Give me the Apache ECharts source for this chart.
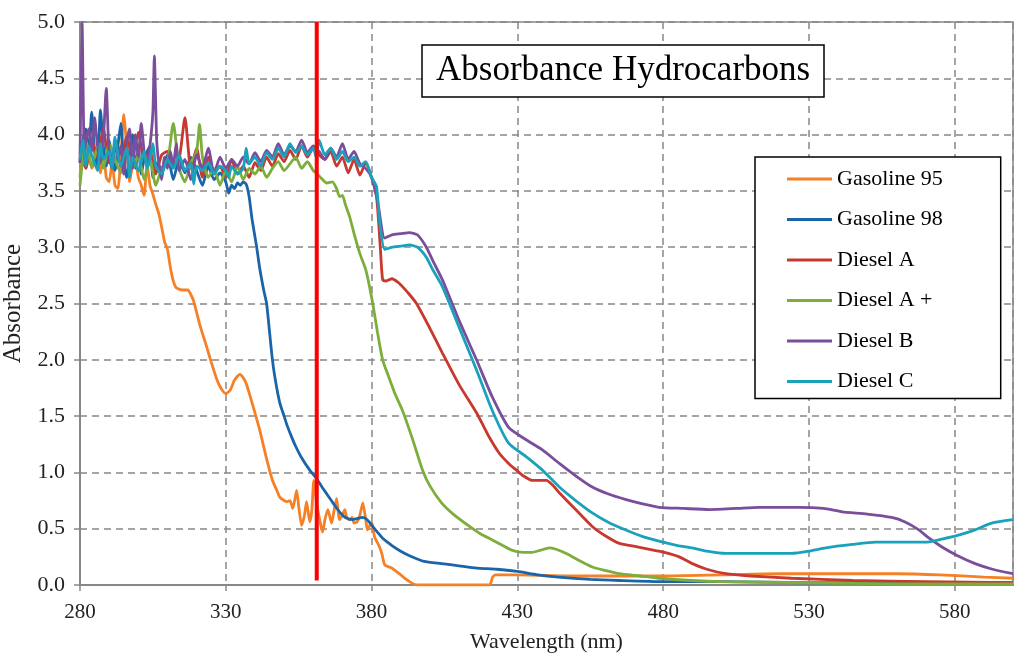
<!DOCTYPE html>
<html>
<head>
<meta charset="utf-8">
<script src="https://cdn.jsdelivr.net/npm/echarts@6/dist/echarts.min.js"></script>
<style>html,body{margin:0;padding:0;background:#fff}#c{width:1024px;height:662px}</style>
</head>
<body>
<div id="c"></div>
<script>
var seriesNames = ['Gasoline 95','Gasoline 98','Diesel A','Diesel A +','Diesel B','Diesel C'];
var seriesColors = ['#F58025','#1A65AA','#C8382E','#7DAE3C','#7A4E9A','#1AA2BD'];
var xTicks = [280,330,380,430,480,530,580];
var yTicks = [0,0.5,1,1.5,2,2.5,3,3.5,4,4.5,5];

var gasoline95 = [[280,3.62],[281,3.95],[282,3.72],[283,3.85],[284,3.70],[286,3.80],[287,3.66],[288,3.88],[289,3.62],[290,3.58],[291,3.75],[292,3.55],[293,3.52],[294,3.80],[295,4.18],[296,3.90],[297,3.58],[298,3.72],[299,3.78],[300,3.62],[301,3.55],[302,3.46],[303,3.74],[304,3.55],[305,3.47],[306,3.38],[307,3.30],[308,3.18],[309,3.05],[310,2.98],[311,2.82],[312,2.70],[313,2.64],[315,2.62],[317,2.62],[318,2.58],[319,2.52],[321,2.32],[323.5,2.11],[325,1.98],[327,1.82],[328.5,1.74],[330,1.70],[331.5,1.73],[333,1.82],[334.8,1.87],[336,1.84],[337,1.79],[339,1.62],[341.6,1.38],[344,1.12],[346,0.93],[347.5,0.84],[348.5,0.78],[350,0.75],[351,0.74],[352,0.75],[353,0.68],[354.3,0.84],[355,0.70],[356,0.53],[357,0.62],[357.7,0.74],[358.8,0.56],[359.5,0.66],[360.2,0.93],[361.2,0.72],[362.2,0.58],[363.2,0.47],[364,0.58],[365,0.67],[366.3,0.55],[367,0.64],[368,0.77],[369,0.58],[370,0.62],[370.8,0.67],[371.5,0.60],[372.5,0.58],[373.3,0.60],[374,0.55],[375,0.56],[376,0.62],[377,0.73],[378,0.58],[378.6,0.49],[380,0.56],[381,0.43],[382.7,0.34],[383.5,0.28],[384.5,0.18],[386,0.16],[387,0.15],[390,0.09],[393,0.03],[395.7,0.0],[420.4,0.0],[421.5,0.07],[422.5,0.09],[430,0.09],[450,0.08],[480,0.08],[500,0.09],[520,0.10],[540,0.10],[560,0.10],[575,0.09],[590,0.07],[600,0.06]];

var gasoline98 = [[280,3.75],[281,3.95],[282,4.05],[283,3.80],[284,4.20],[285,3.85],[286,3.70],[287,4.22],[288,3.90],[289,3.72],[290,3.95],[291,3.80],[292,3.68],[293,3.90],[294,4.10],[295,3.75],[296,3.62],[297,3.85],[298,4.00],[299,3.70],[300,3.88],[301,3.65],[302,3.78],[304,3.90],[305,3.62],[306,3.75],[308,3.70],[310,3.82],[312,3.60],[314,3.78],[316,3.66],[318,3.80],[320,3.68],[322,3.55],[324,3.72],[326,3.60],[328,3.66],[330,3.58],[331,3.48],[332,3.55],[333,3.52],[334,3.57],[335,3.55],[336,3.58],[337,3.56],[338,3.45],[339,3.25],[340.6,3.0],[341.6,2.82],[343,2.62],[344,2.5],[345,2.25],[346,2.0],[347,1.82],[348.5,1.62],[350,1.5],[351,1.42],[352.5,1.32],[354,1.23],[356,1.13],[358.8,1.02],[361,0.95],[363,0.87],[364.6,0.81],[367,0.72],[369,0.65],[371,0.60],[373.5,0.58],[375,0.59],[377,0.60],[378.5,0.58],[380.4,0.52],[382,0.47],[384,0.41],[387,0.35],[390,0.30],[393,0.26],[398,0.21],[404,0.19],[410,0.17],[416,0.15],[423,0.14],[430,0.12],[437,0.09],[444,0.07],[455,0.05],[465,0.04],[480,0.03],[500,0.03],[530,0.02],[560,0.02],[600,0.02]];

var dieselA = [[280,3.85],[282,3.70],[284,3.95],[286,3.80],[288,4.05],[290,3.75],[292,3.90],[294,3.72],[296,3.98],[298,3.80],[300,4.02],[302,3.78],[304,3.85],[306,3.65],[308,3.82],[310,3.85],[312,3.72],[314,3.78],[316,4.15],[318,3.70],[320,3.88],[322,3.62],[324,3.80],[326,3.66],[328,3.72],[330,3.62],[332,3.78],[334,3.65],[336,3.72],[338,3.62],[340,3.75],[342,3.68],[344,3.80],[346,3.72],[348,3.83],[350,3.76],[352,3.86],[354,3.78],[356,3.90],[358,3.80],[360,3.88],[362,3.82],[364,3.78],[366,3.85],[368,3.72],[370,3.80],[372,3.66],[374,3.78],[376,3.64],[378,3.75],[380,3.62],[381.7,3.45],[383,3.0],[383.8,2.71],[385,2.70],[387,2.72],[389,2.69],[390.6,2.65],[393,2.58],[395.4,2.5],[400,2.28],[404.3,2.06],[410,1.78],[416,1.53],[420,1.33],[423.8,1.17],[427,1.08],[429.7,1.02],[432,0.97],[435,0.93],[440,0.93],[442,0.89],[444.4,0.82],[450,0.67],[455.7,0.52],[460,0.44],[465,0.37],[470.8,0.34],[478.6,0.30],[485.5,0.25],[490,0.19],[495,0.14],[501.5,0.10],[510,0.08],[524,0.06],[545,0.04],[570,0.03],[600,0.02]];

var dieselAPlus = [[280,3.55],[281,3.80],[282,3.95],[284,3.72],[286,3.88],[288,3.70],[290,3.92],[292,3.78],[294,3.66],[296,3.85],[298,3.70],[300,3.82],[302,3.60],[304,3.78],[306,3.55],[308,3.70],[310,3.75],[312,4.10],[314,3.70],[316,3.58],[318,3.75],[320,3.85],[321,4.09],[322,3.80],[324,3.62],[326,3.70],[328,3.55],[330,3.68],[332,3.58],[334,3.72],[336,3.60],[338,3.70],[340,3.65],[342,3.72],[344,3.62],[346,3.70],[348,3.76],[350,3.68],[352,3.74],[354,3.80],[356,3.70],[358,3.76],[360,3.68],[361,3.66],[362.5,3.62],[364.6,3.57],[366.6,3.58],[368,3.52],[369,3.45],[370,3.46],[371,3.38],[372.5,3.27],[374,3.12],[375.9,2.95],[378,2.80],[379.3,2.65],[380.4,2.5],[382,2.25],[383.8,2.0],[386,1.84],[388,1.70],[390.6,1.55],[394,1.30],[397.5,1.02],[400,0.88],[404,0.73],[408,0.63],[413.6,0.52],[417,0.46],[421.4,0.40],[425,0.35],[428,0.31],[432,0.29],[435,0.29],[438,0.31],[441,0.33],[443,0.32],[446.8,0.28],[451,0.22],[455.7,0.16],[460,0.13],[465,0.10],[472,0.08],[478.6,0.06],[490,0.04],[500,0.03],[530,0.02],[560,0.01],[600,0.01]];

var dieselB = [[280,3.75],[280.7,5.0],[281.5,3.78],[282,3.95],[283,4.05],[284,3.85],[285,4.15],[286,3.90],[287,3.75],[288,3.95],[289,4.41],[290,3.80],[291,3.70],[292,3.95],[293,3.78],[294,3.90],[295,3.65],[296,3.92],[297,4.05],[298,3.70],[299,4.00],[300,3.80],[301,4.10],[302,3.85],[303,3.72],[304,3.90],[305,4.20],[305.5,4.70],[306.3,3.95],[307,3.75],[308,3.60],[309,3.80],[310,3.70],[311,3.85],[312,3.72],[313,3.92],[314,3.68],[316,3.78],[318,3.60],[320,3.82],[322,3.70],[324,3.88],[326,3.65],[328,3.80],[330,3.70],[332,3.78],[334,3.72],[336,3.80],[338,3.74],[340,3.84],[342,3.76],[344,3.86],[346,3.80],[348,3.92],[350,3.82],[352,3.90],[354,3.85],[356,3.95],[358,3.84],[360,3.90],[362,3.85],[364,3.78],[366,3.88],[368,3.80],[370,3.92],[372,3.78],[374,3.85],[376,3.74],[378,3.70],[380,3.62],[382,3.42],[384.5,3.08],[387,3.11],[390,3.12],[393,3.13],[395.7,3.11],[398.8,3.0],[401,2.88],[404.3,2.71],[410,2.35],[416,2.0],[421.4,1.67],[427,1.40],[433,1.29],[438.6,1.20],[444.4,1.08],[450,0.97],[455.7,0.87],[461,0.81],[467,0.76],[473,0.72],[478.6,0.69],[487,0.68],[495.8,0.67],[505,0.68],[513,0.69],[526.6,0.69],[535,0.68],[541.3,0.65],[550,0.63],[558.4,0.60],[563,0.56],[567.7,0.49],[571,0.42],[575.5,0.34],[581,0.26],[587,0.19],[593,0.14],[600,0.10]];

var dieselC = [[280,3.78],[281,3.95],[282,3.72],[283,3.90],[284,3.82],[286,3.68],[287,3.92],[288,3.78],[290,3.85],[291,3.70],[292,3.98],[293,3.82],[294,3.72],[296,3.88],[297,3.62],[298,3.80],[300,3.68],[302,3.85],[303,3.70],[304,3.78],[305,3.92],[306,3.72],[308,3.65],[310,3.78],[312,3.70],[314,3.82],[316,3.68],[318,3.75],[319,3.56],[320,3.72],[322,3.68],[324,3.75],[326,3.65],[328,3.72],[330,3.68],[331,3.62],[332,3.72],[334,3.65],[336,3.70],[337,3.88],[338,3.74],[340,3.80],[342,3.72],[344,3.84],[346,3.78],[348,3.88],[350,3.80],[352,3.92],[354,3.84],[356,3.90],[358,3.82],[360,3.88],[361,3.80],[362,3.95],[364,3.82],[366,3.88],[368,3.78],[370,3.85],[372,3.76],[374,3.80],[376,3.72],[378,3.76],[380,3.62],[381.7,3.54],[382.7,3.24],[384.5,2.98],[387,3.0],[390,3.01],[393,3.02],[395.7,3.0],[398.8,2.91],[401,2.80],[404.3,2.65],[410,2.29],[416,1.91],[421.4,1.55],[427,1.26],[433,1.14],[438.6,1.02],[444.4,0.87],[450,0.75],[455.7,0.64],[461,0.56],[467,0.49],[473,0.43],[478.6,0.39],[485,0.35],[490,0.33],[495,0.30],[501.5,0.28],[512,0.28],[524,0.28],[530,0.30],[535.8,0.33],[545,0.36],[553,0.38],[562,0.38],[570,0.38],[576,0.41],[581,0.44],[587,0.49],[592.7,0.55],[600,0.58]];

var markerLine = [[361.2,0.04],[361.2,5.0]];

var allData = [gasoline95, gasoline98, dieselA, dieselAPlus, dieselB, dieselC];
var FONT = '"Liberation Serif","Times New Roman",serif';

var series = seriesNames.map(function(n,i){
  return {name:n,type:'line',data:allData[i],symbol:'none',showSymbol:false,smooth:0.2,
    lineStyle:{color:seriesColors[i],width:2.8},itemStyle:{color:seriesColors[i]},z:2+i};
});
series.push({name:'marker',type:'line',data:markerLine,symbol:'none',
  lineStyle:{color:'#FF0000',width:4},z:20,silent:true});

var chart = echarts.init(document.getElementById('c'),null,{renderer:'canvas'});
chart.setOption({
  animation:false,
  backgroundColor:'#fff',
  title:{text:'Absorbance Hydrocarbons',left:422,top:45,padding:[8,14],
    borderColor:'#000',borderWidth:1.5,backgroundColor:'#fff',
    textStyle:{fontFamily:FONT,fontSize:35,fontWeight:'normal',color:'#000',lineHeight:36}},
  legend:{data:seriesNames,orient:'vertical',left:755,top:157,
    padding:[11,58,6,32],itemGap:18.5,itemWidth:45,itemHeight:3,icon:'rect',
    borderColor:'#000',borderWidth:1.5,backgroundColor:'#fff',
    textStyle:{fontFamily:FONT,fontSize:22,color:'#000',lineHeight:22}},
  grid:{left:80,right:11,top:22,bottom:77,containLabel:false,outerBoundsMode:'none',
    show:true,borderColor:'#888',borderWidth:1.5},
  xAxis:{type:'value',min:280,max:600,interval:50,
    name:'Wavelength (nm)',nameLocation:'middle',nameGap:46,
    nameTextStyle:{fontFamily:FONT,fontSize:22,color:'#222'},
    axisLine:{show:true,lineStyle:{color:'#888',width:2}},
    axisTick:{show:true,inside:false,length:6,lineStyle:{color:'#888',width:1.5}},
    axisLabel:{fontFamily:FONT,fontSize:21,color:'#222',margin:17,showMaxLabel:false},
    splitLine:{show:true,lineStyle:{color:'#888',width:1.5,type:[7,5]}}},
  yAxis:{type:'value',min:0,max:5,interval:0.5,
    name:'Absorbance',nameLocation:'middle',nameGap:54,nameRotate:90,
    nameTextStyle:{fontFamily:FONT,fontSize:25,color:'#222'},
    axisLine:{show:true,lineStyle:{color:'#888',width:2}},
    axisTick:{show:true,inside:false,length:6,lineStyle:{color:'#888',width:1.5}},
    axisLabel:{fontFamily:FONT,fontSize:22,color:'#222',margin:15,
      formatter:function(v){return v.toFixed(1);}},
    splitLine:{show:true,lineStyle:{color:'#888',width:1.5,type:[7,5]}}},
  series:series
});
</script>
</body>
</html>
